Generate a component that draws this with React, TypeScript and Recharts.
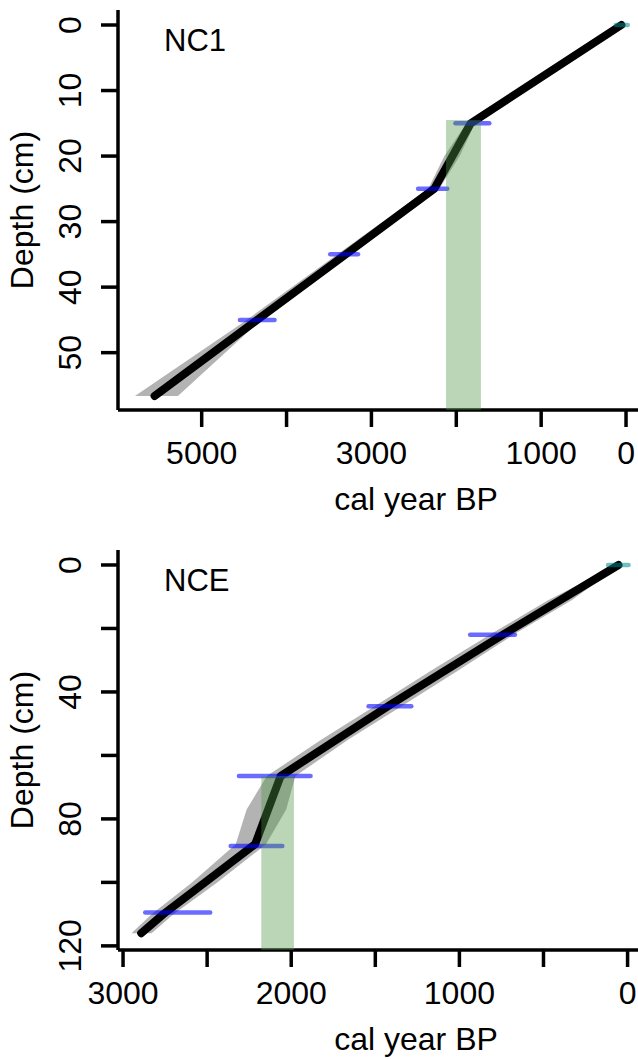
import React from 'react';
import { ComposedChart, Line, Area, XAxis, YAxis, ReferenceArea } from 'recharts';

// ---------- NC1 ----------
const nc1LineDepth = [0, 15, 25, 56.6];
const nc1LineAge = [55, 1830, 2260, 5555];
const nc1EnvDepth = [0, 15, 20, 25, 35, 45, 56.6];
const nc1EnvYoung = [50, 1780, 1960, 2200, 3260, 4300, 5280];
const nc1EnvOld = [62, 1880, 2140, 2330, 3400, 4470, 5786];
const nc1DateDepth = [15, 25, 35, 45];
const nc1DateYoung = [1611, 2106, 3158, 4141];
const nc1DateOld = [2010, 2450, 3485, 4549];
const nc1Surface = [-20, 120];
const nc1Hiatus = [1710, 2121];
const nc1HiatusTop = 14.5;
const nc1AgeTicks = [0, 1000, 2000, 3000, 4000, 5000];
const nc1AgeLabels = [0, 1000, 3000, 5000];
const nc1DepthTicks = [0, 10, 20, 30, 40, 50];
const nc1DepthLabels = [0, 10, 20, 30, 40, 50];

// ---------- NCE ----------
const nceLineDepth = [0, 22, 44, 66.5, 88, 110, 116];
const nceLineAge = [54, 743, 1410, 2063, 2215, 2760, 2892];
const nceEnvDepth = [0, 11, 22, 33, 44, 55, 66.5, 77, 88, 100, 110, 116];
const nceEnvYoung = [45, 330, 680, 1000, 1330, 1660, 1975, 2030, 2150, 2440, 2700, 2830];
const nceEnvOld = [62, 470, 820, 1160, 1490, 1820, 2145, 2265, 2330, 2590, 2830, 2950];
const nceDateDepth = [22, 44.5, 66.5, 88.5, 109.5];
const nceDateYoung = [670, 1286, 1885, 2053, 2482];
const nceDateOld = [936, 1540, 2311, 2360, 2868];
const nceSurface = [-6, 116];
const nceHiatus = [1984, 2178];
const nceHiatusTop = 66.5;
const nceAgeTicks = [0, 500, 1000, 1500, 2000, 2500, 3000];
const nceAgeLabels = [0, 1000, 2000, 3000];
const nceDepthTicks = [0, 20, 40, 60, 80, 100, 120];
const nceDepthLabels = [0, 40, 80, 120];

const FONT = '"Liberation Sans", Arial, Helvetica, sans-serif';

type PanelProps = {
  name: string;
  lineDepth: number[];
  lineAge: number[];
  envDepth: number[];
  envYoung: number[];
  envOld: number[];
  dateDepth: number[];
  dateYoung: number[];
  dateOld: number[];
  surface: number[];
  hiatus: number[];
  hiatusTop: number;
  ageTicks: number[];
  ageLabels: number[];
  depthTicks: number[];
  depthLabels: number[];
  ageDomain: [number, number];
  depthDomain: [number, number];
};

const makeXTick = (labels: number[]) => (props: any) => {
  const { x, y, payload } = props;
  if (!labels.includes(payload.value)) return <g />;
  return (
    <text x={x} y={y + 37} textAnchor="middle" fontSize={32} fontFamily={FONT} fill="#000">
      {payload.value}
    </text>
  );
};

const makeYTick = (labels: number[]) => (props: any) => {
  const { x, y, payload } = props;
  if (!labels.includes(payload.value)) return <g />;
  const bx = x - 20;
  return (
    <text x={bx} y={y} transform={`rotate(-90 ${bx} ${y})`} textAnchor="middle" fontSize={32} fontFamily={FONT} fill="#000">
      {payload.value}
    </text>
  );
};

function Panel(p: PanelProps) {
  const lineData = p.lineDepth.map((d, i) => ({ depth: d, age: p.lineAge[i] }));
  const envData = p.envDepth.map((d, i) => ({ depth: d, range: [p.envYoung[i], p.envOld[i]] }));
  const dates = p.dateDepth.map((d, i) => [
    { depth: d, age: p.dateYoung[i] },
    { depth: d, age: p.dateOld[i] },
  ]);
  const surfaceData = [
    { depth: 0, age: p.surface[0] },
    { depth: 0, age: p.surface[1] },
  ];
  return (
    <ComposedChart
      width={638}
      height={540}
      layout="vertical"
      margin={{ top: 10, right: 0, bottom: 0, left: 0 }}
    >
      <XAxis
        type="number"
        dataKey="age"
        domain={p.ageDomain}
        allowDataOverflow
        reversed
        ticks={p.ageTicks}
        interval={0}
        height={130}
        tickSize={17}
        tickMargin={0}
        axisLine={{ stroke: '#000', strokeWidth: 3.5 }}
        tickLine={{ stroke: '#000', strokeWidth: 3.5 }}
        tick={makeXTick(p.ageLabels)}
      />
      <YAxis
        type="number"
        dataKey="depth"
        domain={p.depthDomain}
        allowDataOverflow
        ticks={p.depthTicks}
        interval={0}
        width={118}
        tickSize={17}
        tickMargin={0}
        axisLine={{ stroke: '#000', strokeWidth: 3.5 }}
        tickLine={{ stroke: '#000', strokeWidth: 3.5 }}
        tick={makeYTick(p.depthLabels)}
      />
      <Area
        data={envData}
        dataKey="range"
        stroke="none"
        fill="#b3b3b3"
        fillOpacity={1}
        isAnimationActive={false}
        activeDot={false}
      />
      <Line
        data={lineData}
        dataKey="age"
        stroke="#000"
        strokeWidth={8}
        strokeLinecap="round"
        strokeLinejoin="round"
        dot={false}
        activeDot={false}
        isAnimationActive={false}
      />
      {dates.map((dd, i) => (
        <Line
          key={`d${i}`}
          data={dd}
          dataKey="age"
          stroke="#0000ff"
          strokeOpacity={0.58}
          strokeWidth={4.5}
          strokeLinecap="round"
          dot={false}
          activeDot={false}
          isAnimationActive={false}
        />
      ))}
      <Line
        data={surfaceData}
        dataKey="age"
        stroke="#008b8b"
        strokeOpacity={0.55}
        strokeWidth={4.5}
        strokeLinecap="round"
        dot={false}
        activeDot={false}
        isAnimationActive={false}
      />
      <ReferenceArea
        x1={p.hiatus[1]}
        x2={p.hiatus[0]}
        y1={p.hiatusTop}
        y2={p.depthDomain[1]}
        fill="rgb(77,150,70)"
        fillOpacity={0.39}
        stroke="none"
        zIndex={1500}
      />
      <text x={164} y={51} fontSize={31} fontFamily={FONT} fill="#000">{p.name}</text>
      <text x={33} y={210} transform="rotate(-90 33 210)" textAnchor="middle" fontSize={32} fontFamily={FONT} fill="#000">
        Depth (cm)
      </text>
      <text x={416} y={510} textAnchor="middle" fontSize={32} fontFamily={FONT} fill="#000">
        cal year BP
      </text>
    </ComposedChart>
  );
}

export default function App() {
  return (
    <div style={{ position: 'absolute', left: 0, top: 0, width: 638, height: 1059, overflow: 'hidden', background: '#fff' }}>
      <div style={{ position: 'absolute', left: 0, top: 0 }}>
        <Panel
          name="NC1"
          lineDepth={nc1LineDepth}
          lineAge={nc1LineAge}
          envDepth={nc1EnvDepth}
          envYoung={nc1EnvYoung}
          envOld={nc1EnvOld}
          dateDepth={nc1DateDepth}
          dateYoung={nc1DateYoung}
          dateOld={nc1DateOld}
          surface={nc1Surface}
          hiatus={nc1Hiatus}
          hiatusTop={nc1HiatusTop}
          ageTicks={nc1AgeTicks}
          ageLabels={nc1AgeLabels}
          depthTicks={nc1DepthTicks}
          depthLabels={nc1DepthLabels}
          ageDomain={[-141, 5986]}
          depthDomain={[-2.29, 58.75]}
        />
      </div>
      <div style={{ position: 'absolute', left: 0, top: 540 }}>
        <Panel
          name="NCE"
          lineDepth={nceLineDepth}
          lineAge={nceLineAge}
          envDepth={nceEnvDepth}
          envYoung={nceEnvYoung}
          envOld={nceEnvOld}
          dateDepth={nceDateDepth}
          dateYoung={nceDateYoung}
          dateOld={nceDateOld}
          surface={nceSurface}
          hiatus={nceHiatus}
          hiatusTop={nceHiatusTop}
          ageTicks={nceAgeTicks}
          ageLabels={nceAgeLabels}
          depthTicks={nceDepthTicks}
          depthLabels={nceDepthLabels}
          ageDomain={[-62, 3030]}
          depthDomain={[-4.72, 121.3]}
        />
      </div>
    </div>
  );
}
